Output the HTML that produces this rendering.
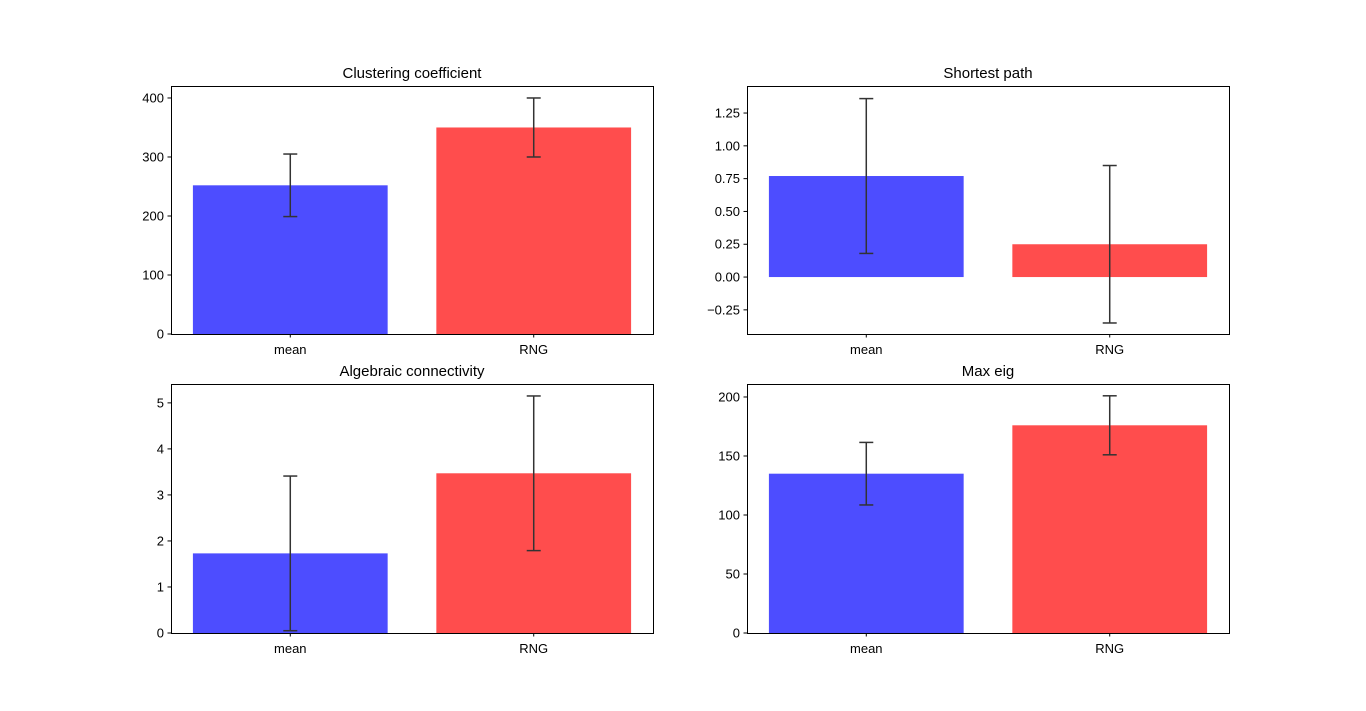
<!DOCTYPE html>
<html><head><meta charset="utf-8"><style>
html,body{margin:0;padding:0;background:#fff;}
svg{display:block;font-family:"Liberation Sans","DejaVu Sans",sans-serif;}
</style></head><body>
<svg id="fig" width="1366" height="711"></svg>
<script>
const categories = ["mean", "RNG"];
const ccValues = [252, 350], ccErrors = [53, 50];
const spValues = [0.77, 0.25], spErrors = [0.59, 0.60];
const acValues = [1.73, 3.47], acErrors = [1.68, 1.68];
const meValues = [135, 176], meErrors = [26.5, 25];
const ccTicks = [0, 100, 200, 300, 400];
const spTicks = [-0.25, 0, 0.25, 0.5, 0.75, 1.0, 1.25];
const acTicks = [0, 1, 2, 3, 4, 5];
const meTicks = [0, 50, 100, 150, 200];

const NS = "http://www.w3.org/2000/svg";
const svg = document.getElementById("fig");
function mk(tag, attrs, parent) {
  const e = document.createElementNS(NS, tag);
  for (const k in attrs) e.setAttribute(k, attrs[k]);
  (parent || svg).appendChild(e);
  return e;
}
const colors = ["#4d4dff", "#ff4d4d"];

function panel(key, title, x0, y0, w, h, ymin, ymax, vals, errs, ticks, fmt) {
  const g = mk("g", {});
  
  
  const ys = v => y0 + h - (v - ymin) / (ymax - ymin) * h;
  const xmin = -0.49, xmax = 1.49;
  const xs = v => x0 + (v - xmin) / (xmax - xmin) * w;
  for (let i = 0; i < vals.length; i++) {
    const top = ys(Math.max(vals[i], 0)), bot = ys(Math.min(vals[i], 0));
    const b = mk("rect", {x: xs(i - 0.4), y: top, width: xs(i + 0.4) - xs(i - 0.4), height: bot - top, fill: colors[i]}, g);
    
    
  }
  for (let i = 0; i < vals.length; i++) {
    const cx = xs(i), lo = ys(vals[i] - errs[i]), hi = ys(vals[i] + errs[i]);
    const eg = mk("g", {stroke: "#333", "stroke-width": 1.5}, g);
    
    
    mk("line", {x1: cx, x2: cx, y1: lo, y2: hi}, eg);
    mk("line", {x1: cx - 7, x2: cx + 7, y1: lo, y2: lo}, eg);
    mk("line", {x1: cx - 7, x2: cx + 7, y1: hi, y2: hi}, eg);
  }
  const fr = mk("rect", {x: x0 + 0.5, y: y0 + 0.5, width: w, height: h, fill: "none", stroke: "#000", "stroke-width": 1}, g);
  
  
  ticks.forEach(t => {
    const y = ys(t);
    mk("line", {x1: x0 - 3.5, x2: x0, y1: y, y2: y, stroke: "#000"}, g);
    const tx = mk("text", {x: x0 - 7, y: y + 4.5, "font-size": 13, "text-anchor": "end"}, g);
    tx.textContent = fmt(t);
    
    
  });
  categories.forEach((c, i) => {
    const x = xs(i);
    mk("line", {x1: x, x2: x, y1: y0 + h, y2: y0 + h + 3.5, stroke: "#000"}, g);
    const tx = mk("text", {x: x, y: y0 + h + 20, "font-size": 13, "text-anchor": "middle"}, g);
    tx.textContent = c;
    
    
  });
  const tt = mk("text", {x: x0 + w / 2, y: y0 - 8, "font-size": 15, "text-anchor": "middle"}, g);
  tt.textContent = title;
  
  
}
const i0 = t => String(t);
const f2 = t => t.toFixed(2).replace("-", "\u2212");
panel("clustering", "Clustering coefficient", 171, 86, 482, 248, 0, 420.3, ccValues, ccErrors, ccTicks, i0);
panel("shortest-path", "Shortest path", 747, 86, 482, 248, -0.434, 1.456, spValues, spErrors, spTicks, f2);
panel("algebraic", "Algebraic connectivity", 171, 384, 482, 249, 0, 5.41, acValues, acErrors, acTicks, i0);
panel("max-eig", "Max eig", 747, 384, 482, 249, 0, 211, meValues, meErrors, meTicks, i0);
</script>
</body></html>
